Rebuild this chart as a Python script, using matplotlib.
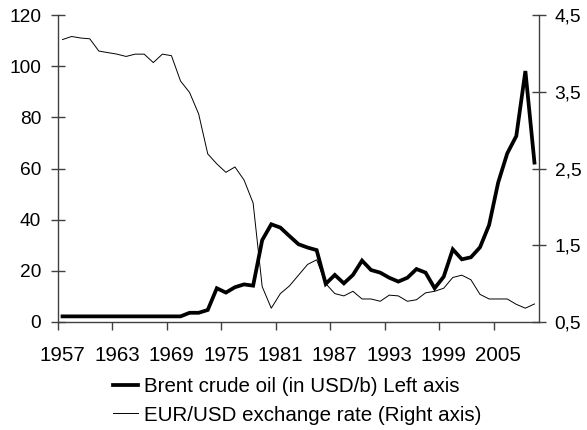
import matplotlib
matplotlib.use("Agg")
import matplotlib.pyplot as plt
from matplotlib.ticker import FixedLocator, NullFormatter, FixedFormatter

plt.rcParams['font.family'] = ['Liberation Sans', 'DejaVu Sans']

years = list(range(1957, 2010))

brent = [2.2] * 14 + [3.6, 3.6, 4.7, 13.2, 11.5, 13.6, 14.7, 14.2, 32.0, 38.2,
         36.9, 33.6, 30.4, 29.1, 28.1, 14.9, 18.4, 15.1, 18.4, 24.0,
         20.3, 19.3, 17.3, 15.8, 17.3, 20.7, 19.3, 13.2, 17.7, 28.4,
         24.5, 25.3, 29.2, 37.9, 54.5, 65.9, 72.7, 98.1, 62.3]

eurusd = [4.18, 4.22, 4.20, 4.19, 4.03, 4.01, 3.99, 3.96, 3.99, 3.99,
          3.88, 3.99, 3.97, 3.64, 3.49, 3.21, 2.69, 2.56, 2.45, 2.52,
          2.35, 2.05, 0.96, 0.68, 0.87, 0.97, 1.11, 1.25, 1.31, 1.00,
          0.87, 0.84, 0.90, 0.80, 0.80, 0.77, 0.85, 0.84, 0.77, 0.79,
          0.88, 0.90, 0.94, 1.08, 1.11, 1.05, 0.86, 0.80, 0.80, 0.80,
          0.73, 0.68, 0.735]

left_ticks = [0, 20, 40, 60, 80, 100, 120]
right_ticks = [0.5, 1.5, 2.5, 3.5, 4.5]
right_labels = ['0,5', '1,5', '2,5', '3,5', '4,5']
label_years = list(range(1957, 2010, 6))

legend_labels = ['Brent crude oil (in USD/b) Left axis',
                 'EUR/USD exchange rate (Right axis)']

axis_col = '#404040'

fig = plt.figure(figsize=(5.87, 4.30), dpi=100)
ax = fig.add_axes([58/587, 1-322/430, (539-58)/587, (322-15)/430])
ax2 = ax.twinx()

n = len(years)
xs = list(range(n))
l1, = ax.plot(xs, brent, color='black', lw=2.7, solid_joinstyle='miter', zorder=3)
l2, = ax2.plot(xs, eurusd, color='black', lw=0.7, zorder=2)

ax.set_xlim(-0.5, n - 0.5)
ax.set_ylim(0, 120)
ax2.set_ylim(0.5, 4.5)

# x axis: ticks at category boundaries, labels at category centres
ax.xaxis.set_major_locator(FixedLocator([-0.5 + 6*k for k in range(9)]))
ax.xaxis.set_major_formatter(NullFormatter())
ax.xaxis.set_minor_locator(FixedLocator([years.index(y) for y in label_years]))
ax.xaxis.set_minor_formatter(FixedFormatter([str(y) for y in label_years]))
ax.tick_params(axis='x', which='major', direction='out', length=5.5, width=1, color=axis_col)
ax.tick_params(axis='x', which='minor', length=0, pad=17, labelsize=14.8)

ax.set_yticks(left_ticks)
ax.set_yticklabels([str(v) for v in left_ticks])
ax.tick_params(axis='y', direction='inout', length=9.4, width=1, color=axis_col,
               pad=7.5, labelsize=13.8)

ax2.set_yticks(right_ticks)
ax2.set_yticklabels(right_labels)
ax2.tick_params(axis='y', direction='inout', length=9.4, width=1, color=axis_col,
                pad=6.5, labelsize=13.8)

for a in (ax, ax2):
    a.spines['top'].set_visible(False)
    for s in ('left', 'right', 'bottom'):
        a.spines[s].set_color(axis_col)
        a.spines[s].set_linewidth(1)
ax2.spines['left'].set_visible(False)
ax2.spines['bottom'].set_visible(False)
ax.spines['right'].set_visible(False)

fig.legend([l1, l2], legend_labels, loc='center left',
           bbox_to_anchor=(113/587, 1 - 401/430), frameon=False,
           fontsize=14.8, handlelength=1.2, handletextpad=0.3,
           labelspacing=0.45, borderpad=0, borderaxespad=0)

fig.savefig('out.png', dpi=100)
